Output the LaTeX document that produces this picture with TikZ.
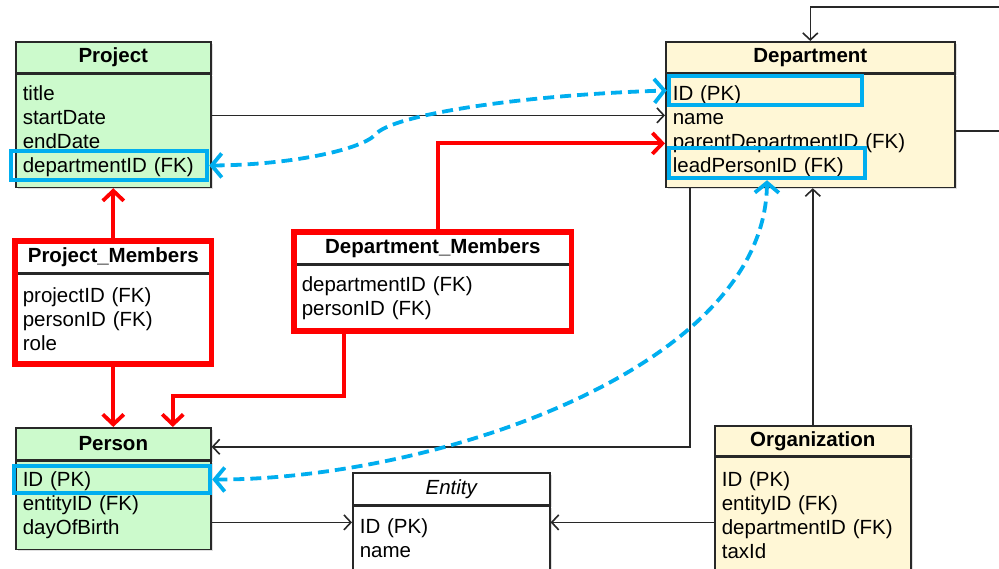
\documentclass[tikz,border=0pt]{standalone}
\usepackage{fontspec}
\setmainfont{Liberation Sans}
\usetikzlibrary{arrows.meta,positioning,fit,shadows}

\definecolor{tblgreen}{RGB}{204,250,204}
\definecolor{tblcream}{RGB}{255,247,214}
\definecolor{keyblue}{RGB}{0,174,239}
\definecolor{edgegray}{RGB}{40,40,40}
\newcommand{\tblfont}{\fontsize{20.5}{24}\selectfont}

\begin{document}
\begin{tikzpicture}[x=1pt,y=-1pt,
    thead/.style={draw=edgegray,line width=1.6pt,anchor=north west,inner sep=0pt,font=\tblfont\bfseries},
    tbody/.style={draw=edgegray,line width=1.6pt,align=left,inner xsep=7pt,inner ysep=0pt,font=\tblfont},
    tshadow/.style={drop shadow={opacity=0.25,shadow xshift=2pt,shadow yshift=-2pt}},
    memframe/.style={draw=red,line width=5.5pt,inner sep=0pt},
    keybox/.style={draw=keyblue,line width=4.5pt},
    link/.style={draw=edgegray,line width=1.6pt,-{Straight Barb[length=7pt,width=15pt]}},
    memlink/.style={draw=red,line width=3.8pt,-{Straight Barb[length=10pt,width=21pt]}},
    keylink/.style={draw=keyblue,line width=3.8pt,dash pattern=on 11pt off 6pt,
        {Straight Barb[length=10pt,width=24pt]}-{Straight Barb[length=10pt,width=24pt]}}
]
\useasboundingbox (0,0) rectangle (999,569);
\clip (0,0) rectangle (999,569);

% tables
\node[thead,fill=tblgreen,minimum width=195pt,minimum height=31pt,tshadow] (proj) at (15,41) {Project};
\node[tbody,fill=tblgreen,text width=181pt,minimum height=113pt,below=0pt of proj,tshadow] (projbody) {title\\startDate\\endDate\\departmentID (FK)};

\node[thead,fill=tblcream,minimum width=289pt,minimum height=31pt,tshadow] (dept) at (665,41) {Department};
\node[tbody,fill=tblcream,text width=275pt,minimum height=113pt,below=0pt of dept,tshadow] (deptbody) {ID (PK)\\name\\parentDepartmentID (FK)\\leadPersonID (FK)};

\node[thead,fill=white,minimum width=195pt,minimum height=31pt,tshadow] (pmem) at (15,241) {Project\_Members};
\node[tbody,fill=white,text width=181pt,minimum height=89pt,below=0pt of pmem,tshadow] (pmembody) {projectID (FK)\\personID (FK)\\role};
\node[memframe,fit=(pmem)(pmembody)] (pmemframe) {};

\node[thead,fill=white,minimum width=276pt,minimum height=31pt,tshadow] (dmem) at (294,232) {Department\_Members};
\node[tbody,fill=white,text width=262pt,minimum height=65pt,below=0pt of dmem,tshadow] (dmembody) {departmentID (FK)\\personID (FK)};
\node[memframe,fit=(dmem)(dmembody)] (dmemframe) {};

\node[thead,fill=tblgreen,minimum width=195pt,minimum height=32pt,tshadow] (person) at (15,427) {Person};
\node[tbody,fill=tblgreen,text width=181pt,minimum height=88pt,below=0pt of person,tshadow] (personbody) {ID (PK)\\entityID (FK)\\dayOfBirth};

\node[thead,fill=white,font=\tblfont\itshape,minimum width=197pt,minimum height=32pt,tshadow] (ent) at (352,472) {Entity};
\node[tbody,fill=white,text width=183pt,minimum height=64pt,below=0pt of ent,tshadow] (entbody) {ID (PK)\\name};

\node[thead,fill=tblcream,minimum width=196pt,minimum height=30pt,tshadow] (org) at (714,425) {Organization};
\node[tbody,fill=tblcream,text width=182pt,minimum height=115pt,below=0pt of org,tshadow] (orgbody) {ID (PK)\\entityID (FK)\\departmentID (FK)\\taxId};

% key fields
\node[keybox,minimum width=196pt,minimum height=29pt] (projdep) at (109,165.5) {};
\node[keybox,minimum width=193pt,minimum height=29pt] (deptid) at (765.5,90.5) {};
\node[keybox,minimum width=196pt,minimum height=30pt] (deptlead) at (767,163) {};
\node[keybox,minimum width=196pt,minimum height=27pt] (personid) at (112,479.5) {};

% references
\coordinate (pe) at ([yshift=-17pt]personbody.east);
\draw[link] ([yshift=15.5pt]projbody.east) -- ([yshift=15.5pt]deptbody.west);
\draw[link] (deptbody.east) -- ++(60,0) |- ([yshift=34pt]dept.north) -- (dept.north);
\draw[link] ([xshift=-120.5pt]deptbody.south) |- ([yshift=-3pt]person.east);
\draw[link] (org.north) -- (org.north |- deptbody.south);
\draw[link] (pe) -- (pe -| entbody.west);
\draw[link] (orgbody.west |- pe) -- (entbody.east |- pe);

% membership tables
\draw[memlink] (pmemframe.north) -- (projbody.south);
\draw[memlink] (pmemframe.south) -- (person.north);
\draw[memlink] ([xshift=-89pt]dmemframe.south) -- ++(0,62) -| ([xshift=59.5pt]person.north);
\draw[memlink] ([xshift=5pt]dmemframe.north) |- ([yshift=-12.5pt]deptbody.west);

% key links
\draw[keylink] (projdep.east) .. controls (290,165) and (360,150) .. (375,135)
    .. controls (390,115) and (520,95) .. (deptid.west);
\draw[keylink] (deptlead.south) .. controls (765,370) and (430,480) .. (personid.east);
\end{tikzpicture}
\end{document}
